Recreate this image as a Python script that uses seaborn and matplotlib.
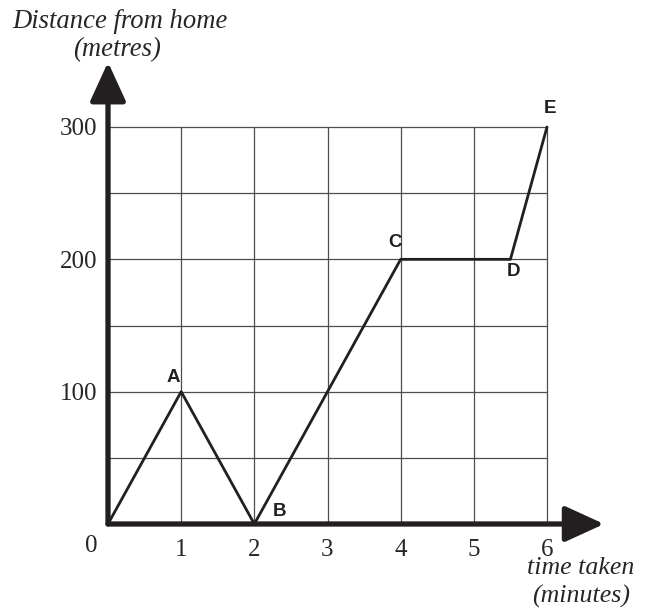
import matplotlib
matplotlib.use("Agg")
import matplotlib.pyplot as plt
import seaborn as sns
import pandas as pd

# data
time_min = [0, 1, 2, 4, 5.5, 6]
distance_m = [0, 100, 0, 200, 200, 300]
point_labels = ["", "A", "B", "C", "D", "E"]
x_ticks = [1, 2, 3, 4, 5, 6]
y_ticks = [100, 200, 300]

df = pd.DataFrame({"time": time_min, "distance": distance_m})

sns.set_style("white")
plt.rcParams["font.family"] = ["Liberation Serif", "DejaVu Serif"]

fig = plt.figure(figsize=(6.51, 6.12), dpi=100)
ax = fig.add_axes([108/651, 1-524/612, (547-108)/651, (524-127)/612])

ax.set_xlim(0, 6)
ax.set_ylim(0, 300)

# grid
grid_col = "#4d4d4d"
ax.set_xticks(x_ticks)
ax.set_xticklabels([str(t) for t in x_ticks])
ax.set_yticks(y_ticks)
ax.set_yticklabels([str(t) for t in y_ticks])
ax.set_yticks([50, 150, 250], minor=True)
ax.grid(True, which="both", color=grid_col, linewidth=0.9)
for gl in ax.get_xgridlines() + ax.get_ygridlines() + ax.yaxis.get_minorticklines():
    gl.set_clip_on(False)
for t in ax.yaxis.get_minor_ticks() + ax.yaxis.get_major_ticks() + ax.xaxis.get_major_ticks():
    t.gridline.set_clip_on(False)
ax.tick_params(axis="x", which="major", length=5, width=0.9, color=grid_col,
               pad=6, labelsize=18)
ax.tick_params(axis="y", which="both", length=0, pad=8, labelsize=18)
for s in ax.spines.values():
    s.set_visible(False)

# data line
sns.lineplot(data=df, x="time", y="distance", ax=ax, color="#231f20",
             linewidth=2.0, sort=False, estimator=None, clip_on=False, zorder=3)
ax.set_xlabel("")
ax.set_ylabel("")

# axes arrows
arrow_kw = dict(arrowstyle="-|>,head_length=24,head_width=11", mutation_scale=1,
                color="#231f20", lw=3.8, shrinkA=0, shrinkB=0)
ax.annotate("", xy=(6.78, 0), xytext=(0, 0), xycoords="data",
            arrowprops=arrow_kw, annotation_clip=False, zorder=5)
ax.annotate("", xy=(0, 349), xytext=(0, 0), xycoords="data",
            arrowprops=arrow_kw, annotation_clip=False, zorder=5)

# origin label
ax.annotate("0", xy=(0, 0), xytext=(-12, -16), textcoords="offset points",
            ha="center", va="center", fontsize=18, annotation_clip=False)

# point labels
offsets = {"A": (-6, 10), "B": (18, 9), "C": (-4, 12), "D": (2, -9), "E": (2, 13)}
for x, y, lab in zip(time_min, distance_m, point_labels):
    if lab:
        ox, oy = offsets[lab]
        ax.annotate(lab, xy=(x, y), xytext=(ox, oy), textcoords="offset points",
                    ha="center", va="center", fontsize=13.5, fontweight="bold",
                    family=["Liberation Sans", "DejaVu Sans"], color="#231f20",
                    annotation_clip=False)

# axis titles
fig.text(120/651, 1-22/612, "Distance from home", ha="center", va="center",
         fontsize=19.2, style="italic")
fig.text(117/651, 1-50/612, "(metres)", ha="center", va="center",
         fontsize=19.2, style="italic")
fig.text(581/651, 1-568/612, "time taken", ha="center", va="center",
         fontsize=18.6, style="italic")
fig.text(581/651, 1-596/612, "(minutes)", ha="center", va="center",
         fontsize=18.6, style="italic")

fig.savefig("out.png", dpi=100, facecolor="white")
